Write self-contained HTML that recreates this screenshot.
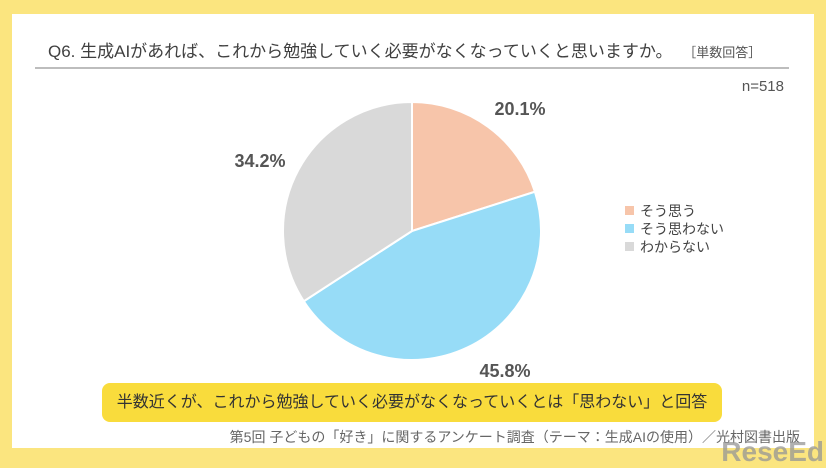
<!DOCTYPE html>
<html><head><meta charset="utf-8"><style>
body{margin:0;width:826px;height:464px;background:#fbe57f;font-family:"Liberation Sans","Noto Sans CJK JP",sans-serif;position:relative;overflow:hidden}
.card{position:absolute;left:12px;top:14px;width:802px;height:434px;background:#fff}
.t{position:absolute;color:#444;white-space:nowrap}
</style></head><body>
<div class="card"></div>
<div class="t" style="left:48px;top:37px;font-size:17px;color:#404040">Q6. 生成AIがあれば、これから勉強していく必要がなくなっていくと思いますか。 <span style="font-size:13px;color:#555;margin-left:6px">［単数回答］</span></div>
<div style="position:absolute;left:35px;top:67px;width:754px;height:2px;background:#bdbdbd"></div>
<div class="t" style="right:42px;top:78px;font-size:15px;color:#555">n=518</div>
<svg id="pie" width="826" height="464" style="position:absolute;left:0;top:0"></svg>
<div style="position:absolute;left:102px;top:383px;width:620px;height:39px;background:#f9dc3c;border-radius:8px;font-size:16px;color:#333;text-align:center;line-height:39px">半数近くが、これから勉強していく必要がなくなっていくとは「思わない」と回答</div>
<div class="t" style="right:26px;top:427px;font-size:14px;color:#666">第5回 子どもの「好き」に関するアンケート調査（テーマ：生成AIの使用）／光村図書出版</div>
<div class="t" style="right:2px;top:436px;font-size:28px;font-weight:bold;color:rgba(150,150,150,0.75)">ReseEd</div>
<script>
const categories=["そう思う","そう思わない","わからない"];
const values=[20.1,45.8,34.2];
const colors=["#f7c5aa","#97dcf7","#d9d9d9"];
const labelPos=[[520,108],[505,370],[260,160]];
const svg=document.getElementById('pie');
const NS="http://www.w3.org/2000/svg";
const cx=412,cy=231,r=129;
const total=values.reduce((a,b)=>a+b,0);
let a0=-Math.PI/2;
values.forEach((v,i)=>{
  const a1=a0+v/total*2*Math.PI;
  const p=document.createElementNS(NS,'path');
  const x0=cx+r*Math.cos(a0),y0=cy+r*Math.sin(a0),x1=cx+r*Math.cos(a1),y1=cy+r*Math.sin(a1);
  p.setAttribute('d',`M${cx},${cy}L${x0},${y0}A${r},${r} 0 ${a1-a0>Math.PI?1:0} 1 ${x1},${y1}Z`);
  p.setAttribute('fill',colors[i]);p.setAttribute('stroke','#fff');p.setAttribute('stroke-width','2');
  
  
  svg.appendChild(p);
  const t=document.createElementNS(NS,'text');
  t.setAttribute('x',labelPos[i][0]);t.setAttribute('y',labelPos[i][1]+7);
  t.setAttribute('text-anchor','middle');t.setAttribute('font-size','18');t.setAttribute('font-weight','bold');t.setAttribute('fill','#555');
  t.textContent=v.toFixed(1)+'%';
  
  
  svg.appendChild(t);
  const rc=document.createElementNS(NS,'rect');
  rc.setAttribute('x',625);rc.setAttribute('y',206+i*18);rc.setAttribute('width',9);rc.setAttribute('height',9);rc.setAttribute('fill',colors[i]);
  
  
  svg.appendChild(rc);
  const lt=document.createElementNS(NS,'text');
  lt.setAttribute('x',640);lt.setAttribute('y',216+i*18);lt.setAttribute('font-size','14');lt.setAttribute('fill','#444');
  lt.textContent=categories[i];
  
  
  svg.appendChild(lt);
  a0=a1;
});
</script>
</body></html>
